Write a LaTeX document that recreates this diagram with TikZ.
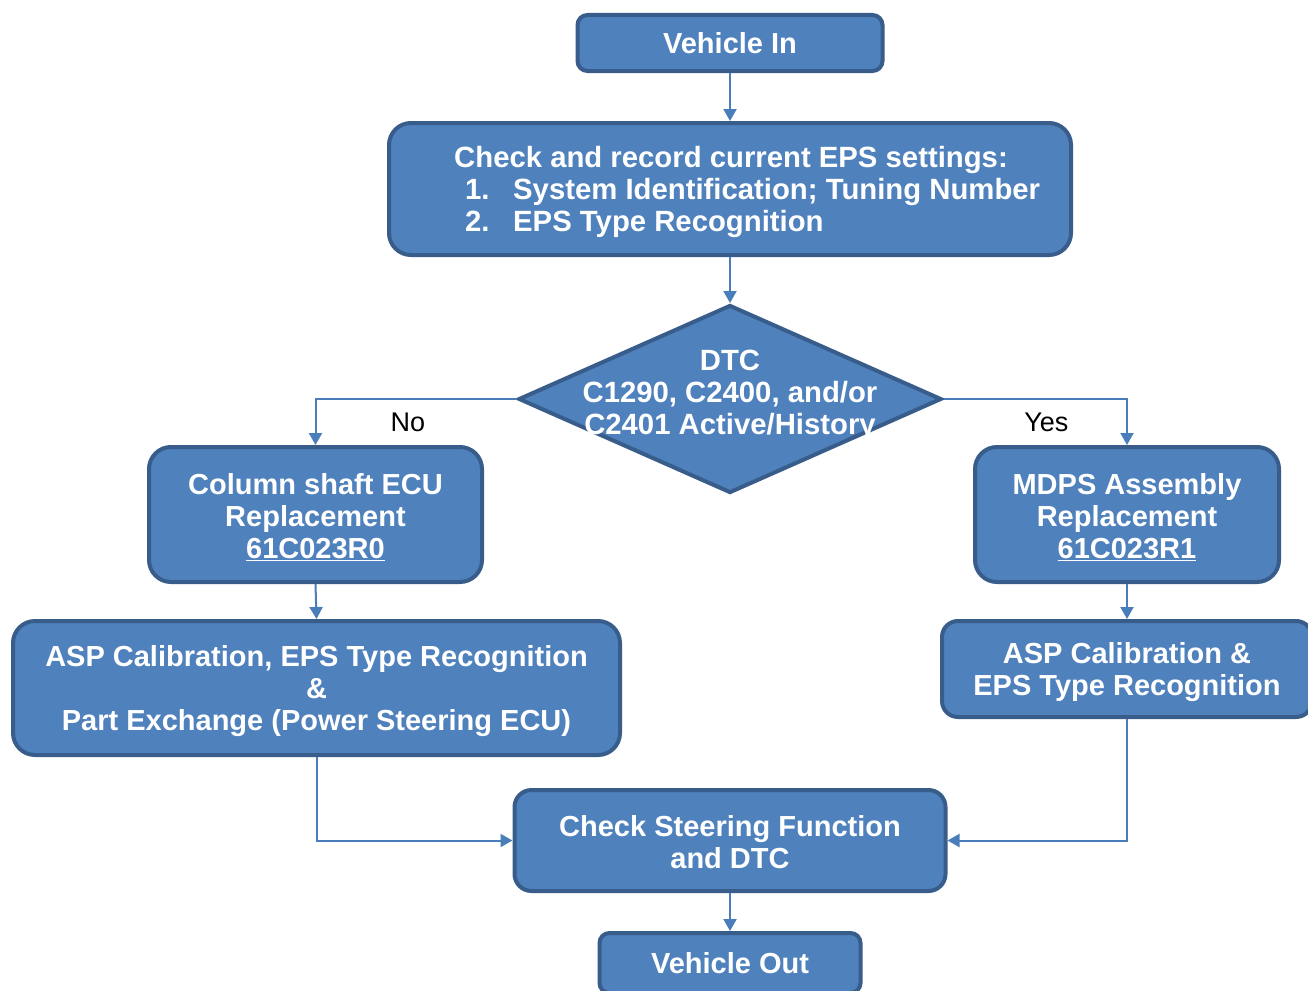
\documentclass[tikz,border=0pt]{standalone}
\usepackage{fontspec}
\setmainfont{Liberation Sans}
\usetikzlibrary{shapes.geometric,arrows.meta}
\definecolor{boxfill}{HTML}{4F81BD}
\definecolor{boxline}{HTML}{385D8A}
\definecolor{arrowc}{HTML}{4A7EBB}
\newcommand{\topstrut}{\rule{0pt}{27pt}}
\begin{document}
\begin{tikzpicture}[x=1pt,y=-1pt,
  box/.style={draw=boxline, line width=4pt, fill=boxfill, text=white,
    font=\fontsize{29}{32}\selectfont\bfseries, align=center, inner sep=0pt,
    rounded corners=#1},
  box/.default=17pt,
  txt/.style={text=white, font=\fontsize{29.3}{32}\selectfont\bfseries, inner sep=0pt},
  lbl/.style={text=black, font=\fontsize{27}{30}\selectfont, inner sep=0pt},
  conn/.style={draw=arrowc, line width=2pt, -{Triangle[width=13pt,length=12pt]}}]
\useasboundingbox (0,0) rectangle (1308,990);
\fill[white] (0,0) rectangle (1308,990);

\node[box=10pt, minimum width=305pt, minimum height=56pt] (vin) at (730,43) {Vehicle In};
\node[box=22pt, minimum width=682pt, minimum height=132pt] (check) at (730,189) {};
\node[txt, anchor=west, align=left] (checktxt) at (454,192)
  {Check and record current EPS settings:\\
   \hspace*{11pt}\makebox[48pt][l]{1.}System Identification; Tuning Number\\
   \hspace*{11pt}\makebox[48pt][l]{2.}EPS Type Recognition};
\node[diamond, draw=boxline, line width=4pt, fill=boxfill, inner sep=0pt,
  minimum width=423pt, minimum height=188pt] (dia) at (730,399) {};
\node[txt, align=center] (diatxt) at (730,395) {DTC\\C1290, C2400, and/or\\C2401 Active/History};
\node[box=22pt, minimum width=333pt, minimum height=135pt] (col) at (315.5,514.5)
  {\topstrut Column shaft ECU\\Replacement\\\underline{61C023R0}};
\node[box=22pt, minimum width=304pt, minimum height=135pt] (mdps) at (1127,514.5)
  {\topstrut MDPS Assembly\\Replacement\\\underline{61C023R1}};
\node[box=22pt, minimum width=607pt, minimum height=134pt] (aspl) at (316.5,688)
  {\topstrut ASP Calibration, EPS Type Recognition\\\&\\Part Exchange (Power Steering ECU)};
\node[box=16pt, minimum width=370pt, minimum height=96pt] (aspr) at (1127,669)
  {\topstrut ASP Calibration \&\\EPS Type Recognition};
\node[box=17pt, minimum width=431pt, minimum height=101pt] (chk) at (730,840.5)
  {\rule{0pt}{24pt}Check Steering Function\\and DTC};
\node[box=10pt, minimum width=261pt, minimum height=60pt] (vout) at (730,963) {Vehicle Out};

\draw[conn] (vin) -- (check);
\draw[conn] (check) -- (dia);
\draw[conn] (dia.west) -| (col.north)
  node[lbl, pos=0.27, anchor=north, yshift=-13pt] (no) {No};
\draw[conn] (dia.east) -| (mdps.north)
  node[lbl, pos=0.28, anchor=north, yshift=-13pt] (yes) {Yes};
\draw[conn] (col.south) -- (aspl.north);
\draw[conn] (mdps) -- (aspr);
\draw[conn] (aspl.south) |- (chk.west);
\draw[conn] (aspr.south) |- (chk.east);
\draw[conn] (chk) -- (vout);
\end{tikzpicture}
\end{document}
